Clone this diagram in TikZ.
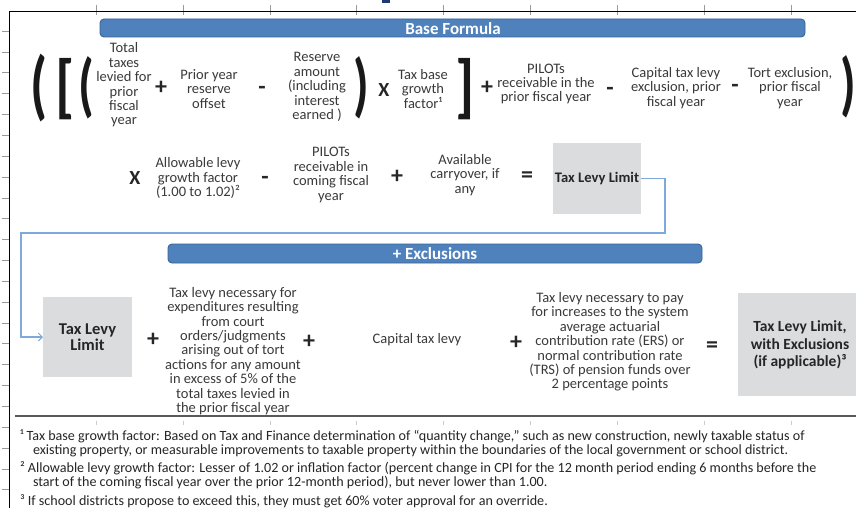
\documentclass[tikz,border=0pt]{standalone}
\usepackage{fontspec}
\setmainfont{Carlito}
\usetikzlibrary{arrows.meta}
\definecolor{txt}{HTML}{3A3A3A}
\definecolor{barfill}{HTML}{4F81BD}
\definecolor{barline}{HTML}{3A6496}
\definecolor{boxfill}{HTML}{DBDCDD}
\definecolor{conn}{HTML}{7FA8DC}
\definecolor{tickc}{HTML}{9A9A9A}
\definecolor{markblue}{HTML}{1F3A6E}
\begin{document}
\begin{tikzpicture}[x=1pt,y=-1pt,
  every node/.style={inner sep=0pt, outer sep=0pt, text=txt},
  term/.style={align=center, font=\fontsize{14.5}{14.4}\selectfont},
  opbig/.style={font=\fontsize{24}{24}\selectfont\bfseries, text=black!85},
  opx/.style={font=\fontsize{20}{20}\selectfont\bfseries, text=black!85},
  bar/.style={draw=barline, fill=barfill, rounded corners=4pt, line width=0.9pt},
  bartext/.style={text=white, font=\fontsize{17}{17}\selectfont\bfseries},
  graybox/.style={fill=boxfill, align=center},
  brk/.style={text=black!90},
  foot/.style={anchor=base west, font=\fontsize{14.1}{14}\selectfont, text=black!85},
  tick/.style={draw=tickc, line width=0.6pt},
  link/.style={draw=conn, line width=1.2pt},
]
\useasboundingbox (0,0) rectangle (856,508);
\fill[white] (0,0) rectangle (856,508);

% frame and ruler ticks
\foreach \yy in {31,51.85,...,508} { \draw[tick] (2,\yy) -- (9,\yy); }
\foreach \xx in {96,182.9,...,800} { \draw[tick] (\xx,5) -- (\xx,15); }
\draw[black, line width=0.8pt] (9,508) -- (9,11) -- (856,11);
\fill[markblue] (382,0) rectangle (390,3);

% Base formula bar
\draw[bar] (100,19) rectangle (805,37);
\node[bartext] (basehdr) at (453,28.5) {Base Formula};

% row 1
\node[brk] (lp1) at (39,88) {\scalebox{0.72}[1]{\fontsize{76}{76}\selectfont\bfseries (}};
\node[brk] (lb1) at (65,89) {\scalebox{0.85}[1]{\fontsize{70}{70}\selectfont\bfseries [}};
\node[brk] (lp2) at (86,88) {\scalebox{0.72}[1]{\fontsize{70}{70}\selectfont\bfseries (}};
\node[term] (t1) at (124,85) {Total\\taxes\\levied for\\prior\\fiscal\\year};
\node[opbig] (p1) at (161,88) {+};
\node[term] (t2) at (209,89) {Prior year\\reserve\\offset};
\node[opbig] (m1) at (262,90) {-};
\node[term] (t3) at (317,87) {Reserve\\amount\\(including\\interest\\earned )};
\node[brk] (rp1) at (361,88) {\scalebox{0.72}[1]{\fontsize{70}{70}\selectfont\bfseries )}};
\node[opx] (x1) at (384,90) {X};
\node[term] (t4) at (423,89) {Tax base\\growth\\factor¹};
\node[brk] (rb1) at (465,89) {\scalebox{0.85}[1]{\fontsize{70}{70}\selectfont\bfseries ]}};
\node[opbig] (p2) at (487,88) {+};
\node[term] (t5) at (546,84) {PILOTs\\receivable in the\\prior fiscal year};
\node[opbig] (m2) at (610,91) {-};
\node[term] (t6) at (676,88) {Capital tax levy\\exclusion, prior\\fiscal year};
\node[opbig] (m3) at (735,88) {-};
\node[term] (t7) at (790,88) {Tort exclusion,\\prior fiscal\\year};
\node[brk] (rp2) at (848,87) {\scalebox{0.72}[1]{\fontsize{70}{70}\selectfont\bfseries )}};

% row 2
\node[opx] (x2) at (135,178) {X};
\node[term] (r2a) at (198,178) {Allowable levy\\growth factor\\(1.00 to 1.02)²};
\node[opbig] (m4) at (265,180) {-};
\node[term] (r2b) at (331,175) {PILOTs\\receivable in\\coming fiscal\\year};
\node[opbig] (p3) at (397,177) {+};
\node[term] (r2c) at (465,175) {Available\\carryover, if\\any};
\node[opbig] (eq1) at (527,177) {=};
\node[graybox, minimum width=88pt, minimum height=71pt, font=\fontsize{14.6}{14}\selectfont\bfseries, text=black!85] (tll) at (597,178.5) {Tax Levy Limit};

% exclusions bar
\draw[bar] (168,244) rectangle (702,263);
\node[bartext] (exhdr) at (435,253.5) {+ Exclusions};

% row 3
\node[graybox, minimum width=89pt, minimum height=80pt, font=\fontsize{16.5}{16}\selectfont\bfseries, text=black!85] (tll2) at (87.5,337) {Tax Levy\\Limit};
\node[opbig] (p4) at (153,340) {+};
\node[term] (r3a) at (233,351) {Tax levy necessary for\\expenditures resulting\\from court\\orders/judgments\\arising out of tort\\actions for any amount\\in excess of 5\% of the\\total taxes levied in\\the prior fiscal year};
\node[opbig] (p5) at (309,342) {+};
\node[term] (r3b) at (417,340) {Capital tax levy};
\node[opbig] (p6) at (516,343) {+};
\node[term] (r3c) at (610,342) {Tax levy necessary to pay\\for increases to the system\\average actuarial\\contribution rate (ERS) or\\normal contribution rate\\(TRS) of pension funds over\\2 percentage points};
\node[opbig] (eq2) at (712,347) {=};
\fill[boxfill] (738,293) rectangle (860,396);
\node[align=center, font=\fontsize{15.5}{17.5}\selectfont\bfseries, text=black!85] (final) at (800,345) {Tax Levy Limit,\\with Exclusions\\(if applicable)³};

% connector
\coordinate (c1) at (665,178.5);
\coordinate (c2) at (665,233);
\coordinate (c3) at (21,233);
\coordinate (c4) at (21,337);
\draw[link, -{Straight Barb[length=4pt,width=8pt,line width=1pt]}] (tll.east) -- (c1) -- (c2) -- (c3) -- (c4) -- (tll2.west);

% separator
\draw[black!65, line width=1.6pt] (15,416) -- (856,416);
\foreach \xx in {96,182.9,...,800} { \draw[draw=black!20, line width=0.5pt] (\xx,421) -- (\xx,425); }

% footnotes
\node[foot] (f1) at (20,440) {¹ Tax base growth factor: Based on Tax and Finance determination of “quantity change,” such as new construction, newly taxable status of};
\node[foot] (f1b) at (33,454) {existing property, or measurable improvements to taxable property within the boundaries of the local government or school district.};
\node[foot] (f2) at (20,472) {² Allowable levy growth factor: Lesser of 1.02 or inflation factor (percent change in CPI for the 12 month period ending 6 months before the};
\node[foot] (f2b) at (33,486) {start of the coming fiscal year over the prior 12-month period), but never lower than 1.00.};
\node[foot] (f3) at (20,505) {³ If school districts propose to exceed this, they must get 60\% voter approval for an override.};
\end{tikzpicture}
\end{document}
